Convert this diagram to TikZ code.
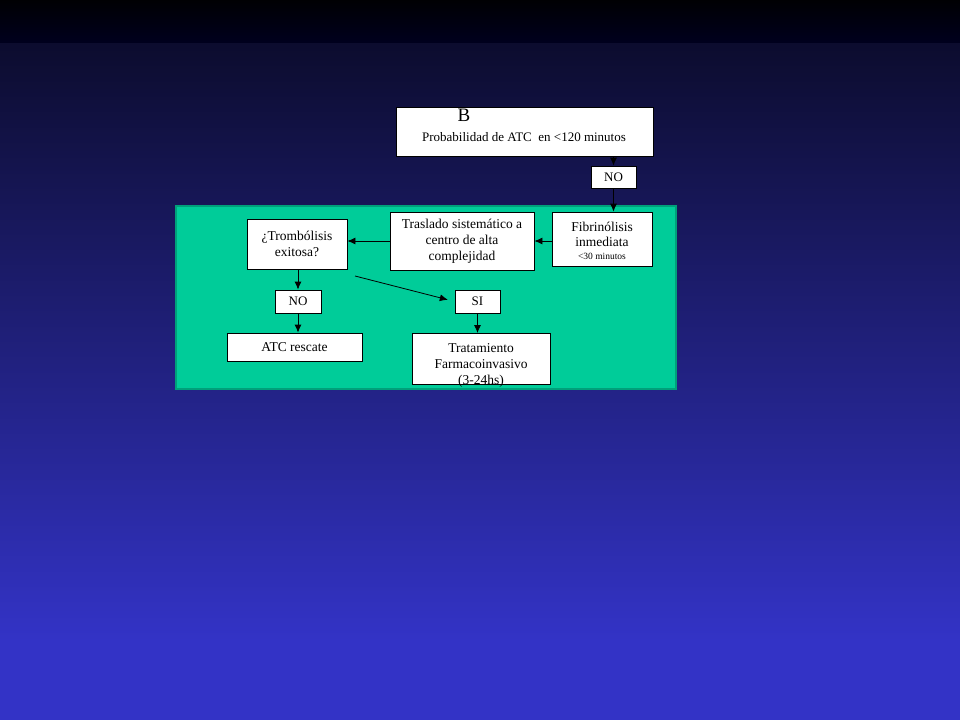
\documentclass[tikz,border=0pt]{standalone}
\usepackage{fontspec}
\setmainfont{Liberation Serif}
\usetikzlibrary{arrows.meta}
\definecolor{fondoA}{HTML}{0C0C2E}
\definecolor{fondoB}{HTML}{3333C6}
\definecolor{fondoC}{HTML}{00001E}
\definecolor{verde}{HTML}{00CC99}
\definecolor{verdeborde}{HTML}{00A07A}
\tikzset{
  caja/.style={draw=black, fill=white, line width=0.8pt, inner sep=1pt, align=center, font=\fontsize{13.5}{16}\selectfont},
  etiq/.style={caja, font=\fontsize{13}{14}\selectfont},
  flecha/.style={-{Latex[length=8pt,width=7pt]}, line width=0.8pt}
}
\begin{document}
\begin{tikzpicture}[x=1pt, y=-1pt]
        % fondo
        \useasboundingbox (0,0) rectangle (960,720);
        \shade[top color=black!90!fondoC, bottom color=fondoC] (0,0) rectangle (960,43);
        \shade[top color=fondoA, bottom color=fondoB] (0,43) rectangle (960,640);
        \fill[fondoB] (0,639) rectangle (960,720);
        \draw[verdeborde, fill=verde, line width=2pt] (176,206) rectangle (676,389);
        % cajas
        \node[caja, minimum width=257pt, minimum height=49pt] (prob) at (524.5,131.5) {};
        \node[font=\fontsize{19}{19}\selectfont] (b) at (464,115) {B};
        \node[font=\fontsize{13}{16}\selectfont] (probtxt) at (524,137) {Probabilidad de ATC\ \ en <120 minutos};
        \node[etiq, minimum width=45pt, minimum height=22pt] (no1) at (613.5,177) {NO};
        \node[caja, minimum width=100pt, minimum height=54pt] (fibr) at (602,239) {};
        \node[font=\fontsize{13.5}{16}\selectfont, align=center] (fibrtxt) at (602,241) {Fibrinólisis\\[-1pt]inmediata\\[-3pt]{\fontsize{9.5}{10}\selectfont <30 minutos}};
        \node[caja, minimum width=144pt, minimum height=58pt] (trasl) at (462,241) {Traslado sistemático a\\centro de alta\\complejidad};
        \node[caja, minimum width=100pt, minimum height=50pt] (tromb) at (297,244) {¿Trombólisis\\exitosa?};
        \node[etiq, minimum width=46pt, minimum height=23pt] (no2) at (298,301.5) {NO};
        \node[caja, minimum width=135pt, minimum height=28pt] (rescate) at (294.5,347) {ATC rescate};
        \node[etiq, minimum width=45pt, minimum height=23pt] (si) at (477.5,301.5) {SI};
        \node[caja, minimum width=138pt, minimum height=51pt, anchor=north] (tratam) at (481,333) {};
        \node[font=\fontsize{13.5}{16}\selectfont, align=center, anchor=north] (tratamtxt) at (481,340) {Tratamiento\\Farmacoinvasivo\\(3-24hs)};
        \coordinate (diag) at (355,276);
        % flechas
        \draw[flecha] (prob.south -| no1) -- (no1.north);
        \draw[flecha] (no1.south) -- (fibr.north -| no1);
        \draw[flecha] (fibr.west |- trasl.east) -- (trasl.east);
        \draw[flecha] (trasl.west) -- (tromb.east |- trasl.west);
        \draw[flecha] (tromb.south -| no2) -- (no2.north);
        \draw[flecha] (no2.south) -- (rescate.north -| no2);
        \draw[flecha, shorten >=7pt] (diag) -- (si.west);
        \draw[flecha] (si.south) -- (tratam.north -| si);
\end{tikzpicture}
\end{document}
